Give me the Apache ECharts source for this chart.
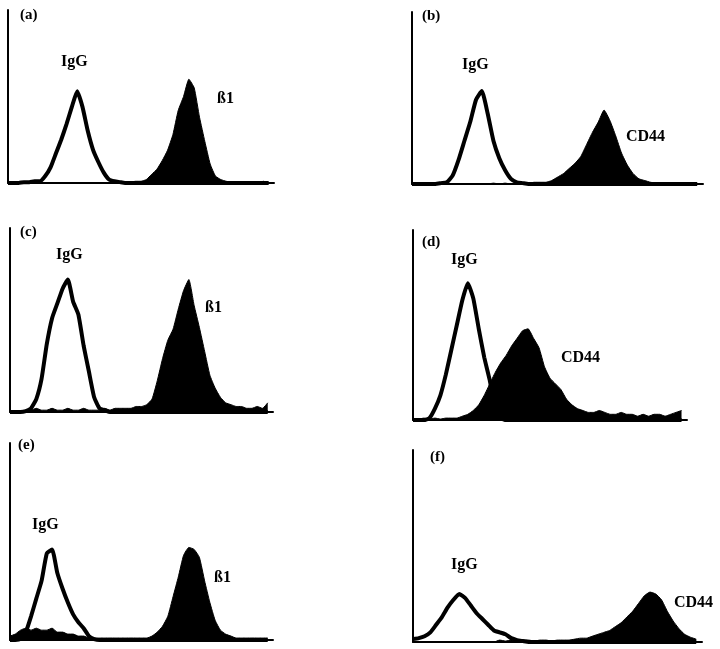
<!DOCTYPE html>
<html><head><meta charset="utf-8">
<script src="https://cdn.jsdelivr.net/npm/echarts@6/dist/echarts.min.js"></script>
<style>html,body{margin:0;padding:0;background:#fff}#c{width:720px;height:649px}</style>
</head><body><div id="c"></div>
<script>
// Fluorescence channel bins (0..49) – counts per bin
const aIgG = [0,0,0,0.5,0.5,1,1,4,9,17,25,34,44,53,44,30,19,12,6,2,1,0.5,0,0,0,0,0,0,0,0,0,0,0,0,0,0,0,0,0,0,0,0,0,0,0,0,0,0,0,0];
const aB1  = [0,0,0,0,0,0,0,0,0,0,0,0,0,0,0,0,0,0,0,0,0,0,0.5,0.5,1,1,2,5,8,13,19,28,42,50,60,55,38,24,11,4,2,1,0.5,0,0,0,0.5,0,1,0];
const bIgG = [0,0,0,0,0,0.5,1,5,14,25,36,49,54,41,25,15,8,3,1,0.5,0,0,0,0,0,0,0,0,0,0,0,0,0,0,0,0,0,0,0,0,0,0,0,0,0,0,0,0,0,0];
const bCD44= [0,0,0,0,0,0,0,0,0,0,0,0,0,0,0.5,0,0.5,0,0.5,0.5,0.5,1,1,1,2,4,6,9,12,16,23,30,36,43,37,28,18,11,6,3,2,1,0.5,0.5,0,0.5,0,0.5,0,0.5];
const cIgG = [0,0,0,0.5,2,7,18,37,51,59,67,72,60,53,36,22,8,2,1,0,0,0,0,0,0,0,0,0,0,0,0,0,0,0,0,0,0,0,0,0,0,0,0,0,0,0,0,0,0,0];
const cB1  = [0,0,0,1,1,2,1,1,2,1,1,2,1,1,2,1,1,1,2,1,2,2,2,2,3,3,4,7,17,29,39,45,56,66,72,58,46,33,20,13,8,5,4,3,3,2,2,3,2,5];
const dIgG = [0,0,0,1,6,13,24,37,50,63,72,64,48,33,21,6,1,0,0,0,0,0,0,0,0,0,0,0,0,0,0,0,0,0,0,0,0,0,0,0,0,0,0,0,0,0,0,0,0,0];
const dCD44= [0.5,0.5,1,0.5,1,0.5,1,1,1,2,3,5,8,13,19,25,30,34,39,43,47,48,43,38,28,22,19,16,11,8,6,5,4,4,5,4,3,3,4,3,3,2,3,2,3,3,2,3,4,5];
const eIgG = [0,0,0.5,4,12,21,30,44,46,34,26,19,13,9,6,2,0.5,0,0,0,0,0,0,0,0,0,0,0,0,0,0,0,0,0,0,0,0,0,0,0,0,0,0,0,0,0,0,0,0,0];
const eB1  = [2,3,5,6,5,6,5,5,6,4,4,3,3,2,2,1,1,1,1,1,1,1,1,1,1,1,1,2,4,7,12,22,32,43,47,46,42,30,19,10,5,3,2,1,1,1,1,1,1,1];
const fIgG = [1.5,2,3,5,9,13,18,22,25,23,19,15,12,9,6,5,4,2,1,0.5,0,0,0,0,0,0,0,0,0,0,0,0,0,0,0,0,0,0,0,0,0,0,0,0,0,0,0,0,0,0];
const fCD44= [0,0,0,0,0,0,0,0,0,0,0,0,0,0,0,1,0.5,1,0.5,1,1,0.5,1,1,0.5,1,1,1,1.5,2,2,3,4,5,6,8,10,13,16,20,24,26,25,22,16,11,7,4,2.5,1.5];

const panelTags = ['(a)','(b)','(c)','(d)','(e)','(f)'];
const markerNames = ['ß1','CD44','ß1','CD44','ß1','CD44'];
const igg = [aIgG,bIgG,cIgG,dIgG,eIgG,fIgG];
const markers = [aB1,bCD44,cB1,dCD44,eB1,fCD44];

// layout
const grids = [
  {left:8,  top:10,  width:266, height:173},
  {left:412,top:12,  width:291, height:172},
  {left:10, top:228, width:263, height:184},
  {left:413,top:230, width:274, height:190},
  {left:10, top:443, width:263, height:197},
  {left:413,top:450, width:289, height:192}
];
const labelPos = [
  {tag:[20,8],  igg:[61,54],  mk:[217,91]},
  {tag:[422,9], igg:[462,57], mk:[626,129]},
  {tag:[20,225],igg:[56,247], mk:[205,300]},
  {tag:[422,235],igg:[451,252],mk:[561,350]},
  {tag:[18,438],igg:[32,517], mk:[214,570]},
  {tag:[430,450],igg:[451,557],mk:[674,595]}
];

const font = 'bold 16px "Liberation Serif", "DejaVu Serif", serif';
const xAxes=[], yAxes=[], series=[], graphics=[];
grids.forEach((g,i)=>{
  xAxes.push({gridIndex:i,type:'value',min:0,max:50,
    axisLine:{show:true,onZero:false,lineStyle:{color:'#000',width:2}},
    axisTick:{show:false},axisLabel:{show:false},splitLine:{show:false}});
  yAxes.push({gridIndex:i,type:'value',min:0,max:100,
    axisLine:{show:true,lineStyle:{color:'#000',width:2}},
    axisTick:{show:false},axisLabel:{show:false},splitLine:{show:false}});
  series.push({type:'line',xAxisIndex:i,yAxisIndex:i,name:markerNames[i],
    data:markers[i].map((v,k)=>[k,v]),showSymbol:false,smooth:0.15,
    lineStyle:{color:'#000',width:1},areaStyle:{color:'#000',opacity:1},z:2});
  series.push({type:'line',xAxisIndex:i,yAxisIndex:i,name:'IgG',
    data:igg[i].map((v,k)=>[k,v]),showSymbol:false,smooth:0.15,
    lineStyle:{color:'#000',width:4},z:3});
  const p = labelPos[i];
  graphics.push({type:'text',left:p.tag[0],top:p.tag[1],style:{text:panelTags[i],font:'bold 15px "Liberation Serif", serif',fill:'#000'}});
  graphics.push({type:'text',left:p.igg[0],top:p.igg[1],style:{text:'IgG',font:font,fill:'#000'}});
  graphics.push({type:'text',left:p.mk[0],top:p.mk[1],style:{text:markerNames[i],font:font,fill:'#000'}});
});

const chart = echarts.init(document.getElementById('c'),null,{renderer:'canvas'});
chart.setOption({animation:false,backgroundColor:'#fff',grid:grids,xAxis:xAxes,yAxis:yAxes,series:series,graphic:graphics});
</script></body></html>
